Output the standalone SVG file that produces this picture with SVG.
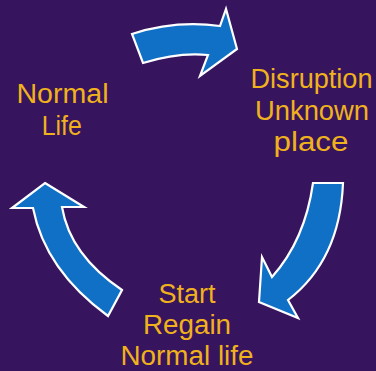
<svg xmlns="http://www.w3.org/2000/svg" width="376" height="371" viewBox="0 0 376 371">
<style>
.arrow{fill:#0F70C6;stroke:#FFFFFF;stroke-width:2.2;stroke-linejoin:miter}
.lbl{font-family:"Liberation Sans",Arial,sans-serif;font-size:27px;fill:#F0B21C;text-anchor:middle}
</style>
<rect width="376" height="371" fill="#37145E"/>
<g id="connectors">
<path class="arrow" d="M132,34 Q175,20 220,26 L226,9 L237,49 L200,76 L208,55 Q178,52 143,63 Z"/>
<path class="arrow" d="M313,183 L343,183 Q340,260 288,300 L298,318 L259,302 L262,257 L272,277 Q305,240 313,183 Z"/>
<path class="arrow" d="M45,183 L84,207 L62,207 Q70,255 122,290 L108,316 Q45,270 33,208 L12,208 Z"/>
</g>
<g id="node-normal">
<text class="lbl" x="62.5" y="103.3" textLength="92" lengthAdjust="spacingAndGlyphs">Normal</text>
<text class="lbl" x="61.7" y="135" textLength="40" lengthAdjust="spacingAndGlyphs">Life</text>
</g>
<g id="node-disruption">
<text class="lbl" x="311.5" y="87.7" textLength="122" lengthAdjust="spacingAndGlyphs">Disruption</text>
<text class="lbl" x="312" y="120" textLength="114" lengthAdjust="spacingAndGlyphs">Unknown</text>
<text class="lbl" x="311" y="151" textLength="75" lengthAdjust="spacingAndGlyphs">place</text>
</g>
<g id="node-start">
<text class="lbl" x="187" y="303.3" textLength="57" lengthAdjust="spacingAndGlyphs">Start</text>
<text class="lbl" x="187" y="334" textLength="88" lengthAdjust="spacingAndGlyphs">Regain</text>
<text class="lbl" x="187" y="365" textLength="133" lengthAdjust="spacingAndGlyphs">Normal life</text>
</g>
</svg>
